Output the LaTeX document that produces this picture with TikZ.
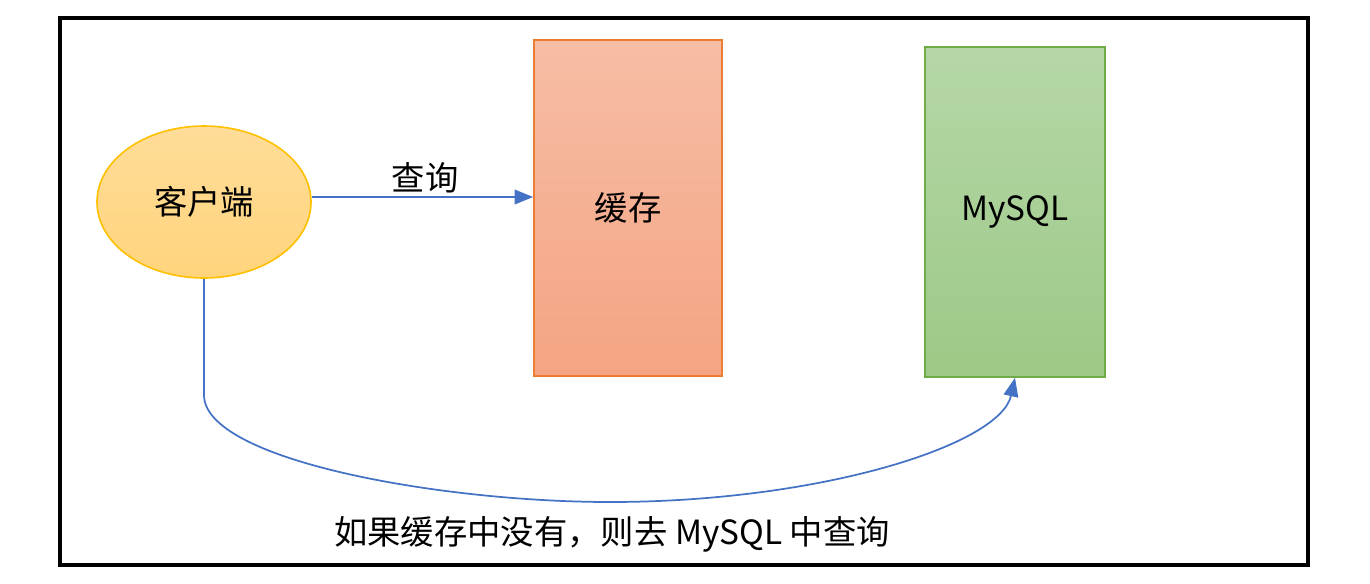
\documentclass[tikz,border=0pt]{standalone}
\usepackage{fontspec}
\setmainfont{Noto Sans CJK SC}
\usetikzlibrary{arrows.meta,shapes.geometric}
\definecolor{bluel}{HTML}{4472C4}
\definecolor{ellb}{HTML}{FFC000}
\definecolor{ellt}{HTML}{FFDC98}
\definecolor{ellbt}{HTML}{FFD47C}
\definecolor{cacheb}{HTML}{ED7D31}
\definecolor{cachet}{HTML}{F6BDA5}
\definecolor{cachebt}{HTML}{F4A482}
\definecolor{sqlb}{HTML}{70AD47}
\definecolor{sqlt}{HTML}{B6D7A8}
\definecolor{sqlbt}{HTML}{9CC986}
\tikzset{
  lbl/.style={font=\fontsize{25}{28}\selectfont, text=black},
  arr/.style={draw=bluel, line width=1.3pt, -{Triangle[length=14pt,width=11pt]}},
}
\begin{document}
\begin{tikzpicture}[x=0.75pt,y=-0.75pt]
\useasboundingbox (0,0) rectangle (1370,583);
\draw[line width=2.6pt] (60,18) rectangle (1308,565);
\node[ellipse, draw=ellb, line width=1.2pt, top color=ellt, bottom color=ellbt,
  minimum width=160.5pt, minimum height=114pt, lbl] (client) at (204,202) {客户端};
\node[rectangle, draw=cacheb, line width=1.2pt, top color=cachet, bottom color=cachebt,
  minimum width=141pt, minimum height=252pt, lbl] (cache) at (628,208) {缓存};
\node[rectangle, draw=sqlb, line width=1.2pt, top color=sqlt, bottom color=sqlbt,
  minimum width=135pt, minimum height=247.5pt, lbl] (mysql) at (1015,212) {MySQL};
\coordinate (ly) at (0,197);
\draw[arr] (client.east |- ly) -- (cache.west |- ly);
\node[lbl] (q) at (425,178) {查询};
\coordinate (c1) at (204,395);
\coordinate (c2) at (610,502);
\draw[arr] (client.south) -- (c1) .. controls (204,460) and (440,502) .. (c2)
  .. controls (820,502) and (1000,445) .. (mysql.south);
\node[lbl] (note) at (612,534) {如果缓存中没有，则去 MySQL 中查询};
\end{tikzpicture}
\end{document}
